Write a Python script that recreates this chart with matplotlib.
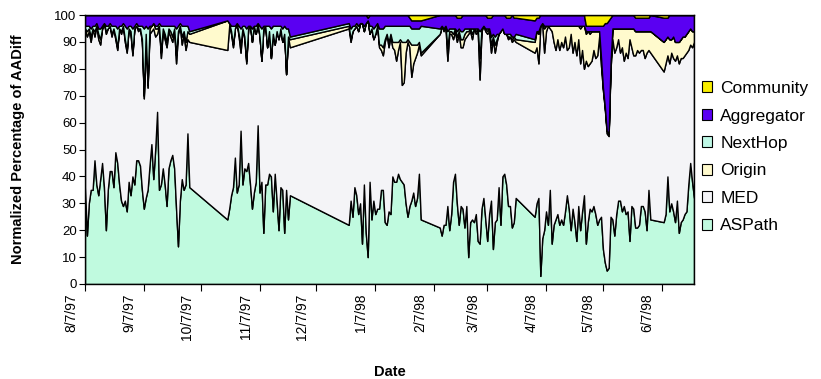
import matplotlib.pyplot as plt
import matplotlib.dates as mdates
import matplotlib.transforms as mtransforms
from matplotlib.patches import Patch
import numpy as np
import pandas as pd

plt.rcParams['font.family'] = ['Liberation Sans', 'DejaVu Sans']

# daily samples, in runs separated by missing days (the chart joins the gaps with straight lines)
seg_starts = ['1997-08-07', '1997-10-21', '1997-12-24', '1998-02-10', '1998-04-01', '1998-06-08']
seg_sizes = [56, 34, 39, 41, 62, 17]

aspath = [
    36, 18, 30, 35, 35, 46, 37, 33, 39, 45, 36, 20, 35, 42, 42, 36, 49, 45, 37, 31,
    29, 31, 27, 38, 33, 40, 37, 46, 46, 44, 35, 28, 32, 35, 44, 52, 39, 50, 64, 35,
    37, 43, 37, 29, 43, 46, 48, 43, 28, 14, 31, 39, 35, 37, 56, 36,
    24, 28, 33, 36, 47, 34, 37, 57, 37, 43, 42, 45, 37, 28, 34, 38, 59, 34, 38, 19,
    37, 37, 41, 40, 27, 41, 31, 20, 36, 35, 19, 35, 24, 33,
    22, 31, 25, 36, 33, 26, 30, 15, 37, 19, 10, 38, 24, 31, 26, 28, 28, 35, 35, 23,
    22, 27, 26, 40, 38, 38, 41, 39, 38, 37, 30, 25, 29, 31, 34, 29, 32, 41, 24,
    21, 18, 22, 22, 29, 20, 26, 38, 41, 30, 22, 29, 28, 21, 29, 10, 23, 24, 23, 26,
    16, 15, 28, 32, 24, 16, 26, 31, 13, 23, 24, 36, 22, 40, 41, 37, 29, 29, 21, 23, 32,
    25, 30, 32, 3, 17, 20, 27, 22, 35, 15, 22, 24, 26, 22, 24, 22, 27, 33, 28, 20,
    28, 23, 16, 29, 20, 27, 33, 15, 23, 28, 27, 29, 26, 22, 24, 25, 13, 8, 5, 6,
    25, 24, 18, 26, 31, 31, 27, 29, 26, 27, 16, 29, 28, 21, 21, 22, 29, 29, 27, 20, 35, 24,
    23, 26, 40, 27, 30, 27, 23, 31, 19, 23, 24, 26, 27, 37, 45, 38, 32,
]
med = [
    59, 74, 64, 55, 60, 46, 59, 58, 50, 50, 61, 73, 60, 54, 50, 59, 42, 42, 58, 62,
    67, 59, 59, 57, 60, 45, 58, 50, 48, 51, 55, 41, 60, 38, 49, 42, 56, 42, 29, 61,
    47, 51, 54, 59, 51, 46, 42, 52, 54, 79, 65, 50, 58, 50, 35, 54,
    63, 68, 60, 52, 48, 63, 55, 29, 58, 48, 40, 50, 59, 62, 62, 55, 38, 58, 45, 76,
    59, 51, 53, 44, 66, 48, 63, 71, 59, 55, 74, 43, 68, 55,
    73, 59, 69, 59, 63, 68, 67, 82, 57, 78, 88, 55, 71, 60, 67, 68, 60, 52, 50, 67,
    71, 61, 66, 48, 49, 45, 46, 51, 36, 38, 56, 65, 59, 46, 48, 55, 54, 48, 61,
    72, 78, 72, 74, 54, 73, 67, 53, 53, 60, 71, 59, 60, 70, 63, 83, 71, 67, 72, 67,
    78, 61, 66, 64, 70, 77, 68, 55, 78, 63, 66, 57, 72, 55, 52, 56, 62, 63, 69, 68, 58,
    61, 58, 50, 93, 80, 66, 67, 74, 60, 79, 68, 63, 65, 65, 66, 66, 65, 54, 60, 73,
    58, 67, 69, 62, 62, 60, 47, 68, 58, 54, 56, 58, 58, 63, 68, 56, 59, 57, 51, 49,
    55, 67, 68, 62, 60, 55, 61, 54, 60, 57, 75, 59, 57, 64, 66, 64, 58, 58, 57, 66, 52, 62,
    56, 56, 45, 55, 56, 57, 60, 54, 63, 61, 60, 59, 59, 50, 44, 50, 58,
]
origin = [
    0, 2, 1, 2, 0, 2, 0, 2, 2, 0, 0, 1, 0, 0, 1, 0, 1, 1, 0, 1,
    0, 1, 1, 0, 1, 1, 0, 0, 1, 0, 1, 1, 1, 1, 2, 2, 2, 3, 2, 0,
    2, 1, 2, 2, 1, 2, 2, 0, 3, 1, 0, 3, 1, 3, 3, 3,
    11, 1, 1, 1, 0, 0, 1, 3, 0, 1, 1, 0, 0, 0, 0, 0, 0, 0, 0, 0,
    0, 0, 0, 0, 0, 0, 0, 0, 0, 0, 0, 0, 0, 3,
    1, 1, 0, 0, 0, 0, 0, 0, 0, 0, 0, 0, 0, 0, 0, 0, 1, 2, 3, 1,
    0, 2, 1, 2, 3, 7, 3, 1, 16, 15, 4, 1, 2, 12, 7, 5, 3, 1, 1,
    0, 0, 1, 0, 5, 1, 1, 2, 1, 2, 1, 3, 3, 2, 2, 1, 1, 2, 0, 1,
    1, 8, 1, 0, 1, 1, 1, 3, 1, 3, 1, 0, 0, 0, 0, 0, 1, 0, 1, 1, 1,
    4, 6, 11, 0, 0, 9, 2, 0, 1, 2, 6, 9, 5, 9, 6, 8, 4, 9, 8, 3,
    10, 6, 11, 5, 13, 9, 16, 10, 13, 11, 11, 7, 10, 9, 2, 3, 1, 1, 1, 1,
    2, 4, 9, 7, 4, 9, 7, 12, 9, 11, 4, 7, 10, 9, 7, 8, 7, 7, 10, 8, 7, 8,
    11, 9, 7, 9, 5, 8, 7, 5, 8, 7, 8, 7, 7, 7, 6, 6, 4,
]
nexthop = [
    1, 2, 1, 3, 1, 2, 1, 2, 4, 1, 0, 2, 1, 1, 3, 1, 4, 7, 1, 2,
    1, 5, 8, 1, 2, 9, 1, 1, 1, 1, 5, 25, 3, 21, 1, 0, 0, 1, 1, 1,
    10, 1, 3, 6, 1, 2, 4, 1, 10, 2, 1, 4, 2, 6, 2, 1,
    0, 0, 2, 7, 1, 0, 3, 6, 1, 4, 12, 1, 0, 5, 0, 3, 0, 4, 12, 1,
    0, 8, 2, 11, 3, 7, 2, 5, 1, 5, 3, 17, 3, 1,
    1, 4, 2, 1, 1, 2, 0, 0, 2, 0, 0, 3, 1, 4, 3, 1, 6, 6, 7, 5,
    3, 6, 3, 6, 6, 6, 6, 5, 6, 6, 6, 5, 6, 6, 6, 6, 6, 5, 10,
    2, 0, 0, 0, 6, 1, 1, 2, 0, 2, 1, 3, 3, 2, 1, 1, 0, 2, 0, 1,
    0, 10, 0, 0, 0, 1, 0, 3, 1, 3, 2, 0, 0, 0, 0, 0, 1, 1, 1, 0, 2,
    1, 0, 1, 0, 0, 1, 0, 0, 0, 0, 0, 0, 0, 0, 0, 0, 0, 0, 0, 0,
    0, 0, 0, 0, 1, 0, 0, 1, 0, 1, 0, 0, 0, 0, 0, 0, 0, 0, 0, 0,
    0, 0, 0, 0, 0, 0, 0, 0, 0, 0, 0, 0, 0, 0, 0, 0, 0, 0, 0, 0, 0, 0,
    0, 0, 0, 0, 0, 0, 0, 0, 0, 0, 0, 0, 0, 0, 0, 0, 0,
]
aggregator = [
    4, 4, 4, 5, 4, 4, 3, 5, 5, 4, 3, 4, 4, 3, 4, 4, 4, 5, 4, 4,
    3, 4, 5, 4, 4, 5, 4, 3, 4, 4, 4, 5, 4, 5, 4, 4, 3, 4, 4, 3,
    4, 4, 4, 4, 4, 4, 4, 4, 5, 4, 3, 4, 4, 4, 4, 6,
    2, 3, 4, 4, 4, 3, 4, 5, 4, 4, 5, 4, 4, 5, 4, 4, 3, 4, 5, 4,
    4, 4, 4, 5, 4, 4, 4, 4, 4, 5, 4, 5, 5, 8,
    3, 5, 4, 4, 3, 4, 3, 3, 4, 3, 1, 4, 4, 5, 4, 3, 5, 5, 5, 4,
    4, 4, 4, 4, 4, 4, 4, 4, 4, 4, 4, 4, 3, 3, 3, 3, 3, 3, 2,
    5, 4, 5, 4, 6, 5, 5, 5, 5, 5, 4, 5, 6, 5, 5, 5, 5, 5, 5, 5,
    5, 6, 5, 4, 5, 4, 4, 7, 7, 8, 7, 7, 6, 5, 7, 6, 6, 6, 8, 7, 6,
    7, 5, 5, 4, 3, 4, 4, 4, 4, 4, 4, 4, 4, 4, 4, 4, 4, 4, 4, 4,
    4, 4, 4, 4, 4, 4, 4, 2, 2, 2, 2, 2, 2, 2, 2, 12, 23, 31, 40, 42,
    17, 5, 5, 5, 5, 5, 5, 5, 5, 5, 5, 5, 5, 5, 5, 5, 5, 5, 5, 5, 5, 6,
    9, 8, 7, 9, 9, 8, 10, 10, 10, 9, 8, 8, 7, 6, 5, 6, 6,
]
community = [
    0] * 56 + [0] * 34 + [
    0, 0, 0, 0, 0, 0, 0, 0, 0, 0, 1, 0, 0, 0, 0, 0, 0, 0, 0, 0,
    0, 0, 0, 0, 0, 0, 0, 0, 0, 0, 0, 0, 1, 2, 2, 2, 2, 2, 2,
    0, 0, 0, 0, 0, 0, 0, 0, 0, 1, 1, 1, 0, 0, 0, 0, 0, 0, 0, 0,
    0, 0, 0, 0, 0, 1, 1, 1, 0, 0, 0, 0, 0, 0, 0, 1, 1, 1, 0, 1, 1,
    2, 1, 1, 0, 0, 0, 0, 0, 0, 0, 0, 0, 0, 0, 0, 0, 0, 0, 0, 0,
    0, 0, 0, 0, 0, 0, 0, 4, 4, 4, 4, 4, 4, 4, 4, 4, 4, 3, 3, 2,
    1, 0, 0, 0, 0, 0, 0, 0, 0, 0, 0, 0, 0, 1, 1, 1, 1, 1, 1, 1, 1, 0,
    1, 1, 1, 0, 0, 0, 0, 0, 0, 0, 0, 0, 0, 0, 0, 0, 0,
]

names = ['ASPath', 'MED', 'Origin', 'NextHop', 'Aggregator', 'Community']
colors = ['#C0FADF', '#F4F4F7', '#FFFACD', '#BFF8E6', '#5A00F2', '#F8EE00']

dates = pd.DatetimeIndex(np.concatenate(
    [pd.date_range(s, periods=n, freq='D').values for s, n in zip(seg_starts, seg_sizes)]))
x = mdates.date2num(dates)

fig = plt.figure(figsize=(8.21, 3.79), dpi=100)
ax = fig.add_axes([85 / 821, 1 - 284 / 379, 609 / 821, 269 / 379])

ax.stackplot(x, aspath, med, origin, nexthop, aggregator, community,
             colors=colors, edgecolor='black', linewidth=1.0)

ax.set_xlim(x[0], x[-1])
ax.set_ylim(0, 100)
ax.set_yticks(np.arange(0, 101, 10))
ax.tick_params(axis='y', direction='out', length=4, width=0.8, labelsize=9.5, pad=2)
ax.tick_params(axis='x', direction='out', length=5, width=0.8, labelsize=10, pad=2)

ax.xaxis.set_major_locator(mdates.MonthLocator(bymonthday=7))
ax.xaxis.set_major_formatter(plt.FuncFormatter(
    lambda v, pos: '{d.month}/{d.day}/{yy:02d}'.format(d=mdates.num2date(v), yy=mdates.num2date(v).year % 100)))
shift = mtransforms.ScaledTranslation(-14 / 100, 0, fig.dpi_scale_trans)
for lab in ax.get_xticklabels():
    lab.set_rotation(90)
    lab.set_ha('center')
    lab.set_va('top')
    lab.set_transform(lab.get_transform() + shift)

for sp in ax.spines.values():
    sp.set_color('black')
    sp.set_linewidth(1.0)

ax.set_ylabel('Normalized Percentage of AADiff', fontsize=10.5, fontweight='bold')
ax.yaxis.set_label_coords(-0.098, 0.5)
ax.set_xlabel('Date', fontsize=10.5, fontweight='bold')
ax.xaxis.set_label_coords(0.5, -0.30)

handles = [Patch(facecolor=c, edgecolor='black', linewidth=0.8) for c in colors][::-1]
fig.legend(handles, names[::-1], loc='upper left', bbox_to_anchor=(702 / 821, 1 - 81 / 379),
           frameon=False, fontsize=12.5, handlelength=0.6, handleheight=0.6,
           handletextpad=0.45, labelspacing=0.72, borderpad=0, borderaxespad=0)

fig.savefig('out.png', dpi=100)
